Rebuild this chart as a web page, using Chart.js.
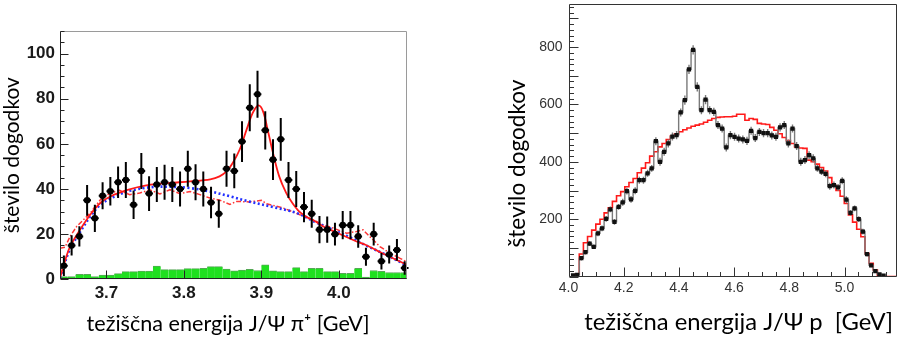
<!DOCTYPE html>
<html>
<head>
<meta charset="utf-8">
<script src="https://cdn.jsdelivr.net/npm/chart.js@4.4.1/dist/chart.umd.min.js"></script>
<style>
body { margin: 0; background: #fff; width: 901px; height: 341px; overflow: hidden; position: relative; }
canvas { position: absolute; top: 0; }
#left { left: 0; }
#right { left: 450px; }
</style>
</head>
<body>
<canvas id="left" width="450" height="341"></canvas>
<canvas id="right" width="451" height="341"></canvas>
<script>
// ---- left panel: J/psi pi+ ----
const binsL = [3.645, 3.655, 3.665, 3.675, 3.685, 3.695, 3.705, 3.715, 3.725, 3.735,
	3.745, 3.755, 3.765, 3.775, 3.785, 3.795, 3.805, 3.815, 3.825, 3.835,
	3.845, 3.855, 3.865, 3.875, 3.885, 3.895, 3.905, 3.915, 3.925, 3.935,
	3.945, 3.955, 3.965, 3.975, 3.985, 3.995, 4.005, 4.015, 4.025, 4.035,
	4.045, 4.055, 4.065, 4.075, 4.085];
const dataL = [6, 15, 19, 35, 27, 37, 39, 43, 44, 33,
	48, 38, 42, 43, 42, 40, 49, 43, 40, 34,
	29, 49, 48, 61, 76, 82, 66, 53, 62, 44,
	40, 32, 29, 22, 22, 20, 24, 24, 19, 10,
	20, 8, 11, 13, 5];
const errL = [4.5, 4.5, 4.5, 6.8, 6, 6, 6.3, 7, 8, 6.3,
	8, 7.7, 7.8, 7.8, 7.8, 7.8, 8, 8, 7.8, 7,
	6.2, 8, 7.7, 9, 10.4, 10.4, 8.5, 9, 9.5, 8,
	8, 6.7, 6.2, 6, 5.8, 5, 6.3, 6.3, 5, 4,
	5, 3.7, 4, 4.8, 3];
const greenL = [1.2, 1.2, 2.2, 2.2, 1.2, 1.9, 1.9, 2.5, 3.4, 3.4,
	3.6, 3.6, 5.9, 4.3, 4.3, 4.3, 4.7, 4.7, 4.9, 5.6,
	5.6, 4.5, 3.7, 4.1, 4.4, 3.9, 6.4, 3.7, 3.4, 3.4,
	5.2, 3.4, 4.9, 4.9, 3.4, 3.4, 2.7, 2.7, 4.9, 1.0,
	3.9, 3.5, 3.0, 3.0, 3.0];

const fitX = [3.64, 3.645, 3.653, 3.666, 3.679, 3.692, 3.705, 3.718, 3.731, 3.757, 3.783, 3.808, 3.834,
	3.846, 3.855, 3.863, 3.872, 3.881, 3.889, 3.896, 3.902, 3.908, 3.915, 3.923, 3.932, 3.94, 3.949,
	3.96, 3.97, 3.98, 3.99, 4.0, 4.02, 4.035, 4.05, 4.065, 4.083, 4.088];
const fitY = [0.5, 6.5, 14.5, 22, 28.6, 33.8, 36.7, 38.5, 40, 41.9, 42.7, 43.4, 44.3,
	45.6, 47.8, 51.5, 57.5, 66.4, 73.8, 77, 74.5, 66.4, 56, 45.6, 38.3, 33.8, 30,
	27.3, 25.6, 23.4, 21.8, 20.3, 17.2, 15.2, 12.6, 10.1, 7.2, 6.3];

const bkgX = [3.64, 3.645, 3.653, 3.666, 3.679, 3.692, 3.705, 3.718, 3.731, 3.757, 3.783, 3.808,
	3.834, 3.86, 3.886, 3.915, 3.947, 3.97, 3.992, 4.015, 4.035, 4.06, 4.083, 4.088];
const bkgY = [0.5, 6, 13.5, 21, 27.8, 33, 35.8, 37.8, 39.3, 40.8, 41, 40.4,
	38.9, 36.7, 34.3, 32, 29.2, 25.3, 22, 18.5, 15, 11, 7, 6];

const mcX = [3.64, 3.6465, 3.653, 3.6615, 3.679, 3.692, 3.705, 3.717, 3.73, 3.743, 3.756, 3.769,
	3.782, 3.795, 3.808, 3.8206, 3.8335, 3.8465, 3.8594, 3.868, 3.885, 3.9, 3.9067, 3.928,
	3.9497, 3.9626, 3.9798, 3.9927, 4.01, 4.023, 4.0313, 4.04, 4.053, 4.066, 4.079, 4.0875];
const mcY = [13.8, 14.2, 19, 23.4, 29.3, 35.2, 38.2, 39.4, 37.5, 38.2, 39.7, 37.8,
	39.7, 37.9, 38.9, 37.5, 36, 35, 33.2, 34.5, 34.3, 35, 33.5, 31.6,
	28.6, 27.1, 24.1, 22.7, 20.4, 21.2, 21.9, 18.9, 14.5, 11.6, 9.3, 7.8];

const xTicksL = [3.7, 3.8, 3.9, 4.0];
const yTicksL = [0, 20, 40, 60, 80, 100];

// ---- right panel: J/psi p ----
const binsR = [4.0165, 4.0315, 4.0465, 4.0615, 4.0765, 4.0915, 4.1065, 4.1215, 4.1365, 4.1515,
	4.1665, 4.1815, 4.1965, 4.2115, 4.2265, 4.2415, 4.2565, 4.2715, 4.2865, 4.3015,
	4.3165, 4.3315, 4.3465, 4.3615, 4.3765, 4.3915, 4.4065, 4.4215, 4.4365, 4.4515,
	4.4665, 4.4815, 4.4965, 4.5115, 4.5265, 4.5415, 4.5565, 4.5715, 4.5865, 4.6015,
	4.6165, 4.6315, 4.6465, 4.6615, 4.6765, 4.6915, 4.7065, 4.7215, 4.7365, 4.7515,
	4.7665, 4.7815, 4.7965, 4.8115, 4.8265, 4.8415, 4.8565, 4.8715, 4.8865, 4.9015,
	4.9165, 4.9315, 4.9465, 4.9615, 4.9765, 4.9915, 5.0065, 5.0215, 5.0365, 5.0515,
	5.0665, 5.0815, 5.0965, 5.1115, 5.1265, 5.1415, 5.1565, 5.1715, 5.1865];
const dataR = [4, 6, 64, 85, 115, 104, 151, 168, 201, 234,
	191, 243, 259, 298, 269, 299, 336, 336, 360, 377,
	472, 400, 435, 464, 488, 493, 572, 615, 722, 790,
	661, 580, 617, 580, 574, 528, 516, 450, 493, 487,
	481, 478, 473, 508, 483, 504, 500, 500, 492, 487,
	520, 528, 464, 516, 455, 400, 406, 423, 412, 377,
	366, 358, 315, 319, 311, 334, 268, 222, 238, 200,
	157, 78, 39, 19, 8, 3, null, null, null];
const errR = [3, 3, 8, 8, 8, 8, 10, 10, 10, 10,
	10, 10, 12, 12, 12, 12, 12, 12, 12, 12,
	14, 14, 14, 14, 14, 14, 14, 16, 16, 16,
	16, 14, 16, 14, 14, 14, 14, 14, 14, 14,
	14, 14, 14, 14, 14, 14, 14, 14, 14, 14,
	14, 14, 14, 14, 14, 14, 14, 14, 14, 12,
	12, 12, 12, 12, 12, 12, 12, 10, 10, 10,
	10, 8, 6, 4, 3, 2, 0, 0, 0];
const phspR = [0, 8, 79, 118, 140, 162, 183, 200, 222, 240,
	262, 282, 296, 313, 328, 342, 362, 378, 397, 420,
	435, 452, 464, 478, 490, 497, 505, 512, 518, 524,
	528, 532, 538, 545, 551, 555, 556, 557, 557, 559,
	566, 566, 545, 551, 548, 534, 532, 530, 520, 510,
	498, 485, 474, 464, 452, 448, 447, 406, 400, 392,
	380, 368, 345, 318, 300, 280, 255, 215, 190, 165,
	139, 80, 46, 23, 5, 0, 0, 0, 0];

const xTicksR = [4.0, 4.2, 4.4, 4.6, 4.8, 5.0];
const yTicksR = [200, 400, 600, 800];

function pts(xs, ys) {
	return xs.map((x, i) => ({x: x, y: ys[i]}));
}

function steps(min, max, step) {
	const out = [];
	for (let v = min; v <= max + 1e-9; v += step) {
		out.push(Math.round(v * 1e6) / 1e6);
	}
	return out;
}

// no extra room for half labels at the axis ends
function fixX(h) {
	return function (s) { s.height = h; s.paddingLeft = 0; s.paddingRight = 0; };
}
function fixY(w) {
	return function (s) { s.width = w; s.paddingTop = 0; s.paddingBottom = 0; };
}

// vertical (and optional horizontal) error bars, drawn just before the dataset's markers
const errorBars = {
	id: "errorBars",
	beforeDatasetDraw(chart, args) {
		const ds = chart.data.datasets[args.index];
		if (!ds.errors) {
			return;
		}
		const {ctx, scales: {x, y}} = chart;
		ctx.save();
		ctx.strokeStyle = ds.errorColor;
		ctx.lineWidth = ds.errorWidth;
		ctx.beginPath();
		args.meta.data.forEach(function (pt, i) {
			const v = ds.data[i];
			if (v.y == null || !ds.errors[i]) {
				return;
			}
			const e = ds.errors[i];
			ctx.moveTo(pt.x, y.getPixelForValue(v.y + e));
			ctx.lineTo(pt.x, y.getPixelForValue(Math.max(v.y - e, 0)));
			if (ds.xHalf) {
				ctx.moveTo(x.getPixelForValue(v.x - ds.xHalf), pt.y);
				ctx.lineTo(x.getPixelForValue(v.x + ds.xHalf), pt.y);
			}
		});
		ctx.stroke();
		ctx.restore();
	},
};

// ROOT-like frame with inward ticks, plus an optional free-standing rotated y title
const frameTicks = {
	id: "frameTicks",
	afterDatasetsDraw(chart, args, o) {
		const {ctx, chartArea: a, scales: {x, y}} = chart;
		const L = Math.round(a.left) + 0.5, R = Math.round(a.right) - 0.5;
		const T = Math.round(a.top) + 0.5, B = Math.round(a.bottom) - 0.5;
		ctx.save();
		ctx.lineWidth = 1;
		ctx.strokeStyle = o.edgeColor;
		ctx.beginPath();
		ctx.moveTo(L, T); ctx.lineTo(R, T); ctx.lineTo(R, B);
		ctx.stroke();
		ctx.strokeStyle = o.axisColor;
		ctx.beginPath();
		ctx.moveTo(L, T); ctx.lineTo(L, B); ctx.lineTo(R, B);
		for (const v of steps(y.min, y.max, o.yMinor)) {
			const p = Math.round(y.getPixelForValue(v)) + 0.5;
			const major = Math.abs(v / o.yMajor - Math.round(v / o.yMajor)) < 1e-6;
			ctx.moveTo(L, p);
			ctx.lineTo(L + (major ? o.majorLen : o.minorLen), p);
		}
		for (const v of steps(o.xStart, x.max, o.xMinor)) {
			const p = Math.round(x.getPixelForValue(v)) + 0.5;
			const major = Math.abs((v - o.xStart) / o.xMajor - Math.round((v - o.xStart) / o.xMajor)) < 1e-6;
			ctx.moveTo(p, B);
			ctx.lineTo(p, B - (major ? o.majorLen : o.minorLen));
		}
		ctx.stroke();
		if (o.yTitle) {
			ctx.translate(o.yTitle.x, o.yTitle.y);
			ctx.rotate(-Math.PI / 2);
			ctx.font = o.yTitle.font;
			ctx.fillStyle = "#000";
			ctx.textAlign = "center";
			ctx.textBaseline = "middle";
			ctx.fillText(o.yTitle.text, 0, 0);
		}
		ctx.restore();
	},
};

Chart.register(errorBars, frameTicks);

new Chart(document.getElementById("left"), {
	"type": "line",
	"data": {
		"datasets": [
			{
				"label": "podatki",
				"data": pts(binsL, dataL),
				"showLine": false,
				"pointRadius": 3.3,
				"pointBackgroundColor": "#000",
				"pointBorderWidth": 0,
				"errors": errL,
				"errorColor": "#000",
				"errorWidth": 2,
				"xHalf": 0.005,
				"order": 0,
			},
			{
				"label": "fit",
				"data": pts(fitX, fitY),
				"borderColor": "#ff1a1a",
				"borderWidth": 1.8,
				"pointRadius": 0,
				"tension": 0.35,
				"order": 1,
			},
			{
				"label": "ozadje",
				"data": pts(bkgX, bkgY),
				"borderColor": "#2230ff",
				"borderWidth": 2.6,
				"borderDash": [2, 2.5],
				"pointRadius": 0,
				"tension": 0.35,
				"order": 2,
			},
			{
				"label": "MC",
				"data": pts(mcX, mcY),
				"borderColor": "#ff3535",
				"borderWidth": 1.5,
				"borderDash": [5, 2, 1.5, 2],
				"pointRadius": 0,
				"order": 3,
			},
			{
				"type": "bar",
				"label": "zeleno",
				"data": pts(binsL, greenL),
				"backgroundColor": "#1fe01f",
				"borderColor": "#55a855",
				"borderWidth": {"top": 1, "left": 0, "right": 0, "bottom": 0},
				"barPercentage": 1,
				"categoryPercentage": 1,
				"order": 5,
			},
		],
	},
	"options": {
		"responsive": false,
		"animation": false,
		"devicePixelRatio": 1,
		"layout": {"padding": {"top": 31, "right": 43, "bottom": 4, "left": 0}},
		"plugins": {
			"legend": {"display": false},
			"tooltip": {"enabled": false},
			"frameTicks": {"edgeColor": "#9a9a9a", "axisColor": "#222", "yMinor": 5, "yMajor": 20, "xStart": 3.7, "xMinor": 0.1, "xMajor": 0.1, "majorLen": 8, "minorLen": 4},
		},
		"scales": {
			"x": {
				"type": "linear",
				"min": 3.64,
				"max": 4.088,
				"offset": false,
				"grid": {"display": false, "drawTicks": false, "offset": false},
				"border": {"display": false},
				"afterBuildTicks": (s) => { s.ticks = xTicksL.map((v) => ({"value": v})); },
				"afterFit": fixX(57.7),
				"ticks": {
					"padding": 3.5,
					"autoSkip": false,
					"maxRotation": 0,
					"color": "#1a1a1a",
					"font": {"family": "Liberation Sans", "size": 17, "weight": "bold"},
					"callback": (v) => v.toFixed(1),
				},
				"title": {
					"display": true,
					"text": "težiščna energija J/Ψ π⁺ [GeV]\u2002",
					"color": "#000",
					"font": {"family": "Lato", "size": 21.6},
					"padding": {"top": 0, "bottom": 0},
				},
			},
			"y": {
				"type": "linear",
				"min": 0,
				"max": 110,
				"grid": {"display": false, "drawTicks": false},
				"border": {"display": false},
				"afterBuildTicks": (s) => { s.ticks = yTicksL.map((v) => ({"value": v})); },
				"afterFit": fixY(60),
				"ticks": {
					"padding": 5,
					"color": "#1a1a1a",
					"font": {"family": "Liberation Sans", "size": 17, "weight": "bold"},
				},
				"title": {
					"display": true,
					"text": "število dogodkov",
					"color": "#000",
					"font": {"family": "Lato", "size": 21},
					"padding": {"top": 0, "bottom": 0},
				},
			},
		},
	},
});

new Chart(document.getElementById("right"), {
	"type": "line",
	"data": {
		"datasets": [
			{
				"label": "podatki",
				"data": pts(binsR, dataR),
				"stepped": "middle",
				"borderColor": "#7a7a7a",
				"borderWidth": 1.4,
				"pointStyle": "rect",
				"pointRadius": 3,
				"pointBackgroundColor": "#111",
				"pointBorderWidth": 0,
				"errors": errR,
				"errorColor": "#7a7a7a",
				"errorWidth": 1.4,
				"order": 0,
			},
			{
				"label": "fazni prostor",
				"data": pts(binsR, phspR),
				"stepped": "middle",
				"borderColor": "#ff1a1a",
				"borderWidth": 1.6,
				"pointRadius": 0,
				"order": 1,
			},
		],
	},
	"options": {
		"responsive": false,
		"animation": false,
		"devicePixelRatio": 1,
		"layout": {"padding": {"top": 4, "right": 4, "bottom": 4, "left": 0}},
		"plugins": {
			"legend": {"display": false},
			"tooltip": {"enabled": false},
			"frameTicks": {
				"edgeColor": "#333", "axisColor": "#333", "yMinor": 20, "yMajor": 100,
				"xStart": 4.0, "xMinor": 0.05, "xMajor": 0.2, "majorLen": 9, "minorLen": 4.5,
				"yTitle": {"text": "število dogodkov", "x": 68, "y": 163.5, "font": "22.6px Lato"},
			},
		},
		"scales": {
			"x": {
				"type": "linear",
				"min": 4.0,
				"max": 5.19,
				"offset": false,
				"grid": {"display": false, "drawTicks": false},
				"border": {"display": false},
				"afterBuildTicks": (s) => { s.ticks = xTicksR.map((v) => ({"value": v})); },
				"afterFit": fixX(60.4),
				"ticks": {
					"padding": 3.3,
					"autoSkip": false,
					"maxRotation": 0,
					"color": "#333",
					"font": {"family": "Liberation Sans", "size": 14},
					"callback": (v) => v.toFixed(1),
				},
				"title": {
					"display": true,
					"text": "\u2002težiščna energija J/Ψ p  [GeV]",
					"color": "#000",
					"font": {"family": "Lato", "size": 23.8},
					"padding": {"top": 0, "bottom": 0},
				},
			},
			"y": {
				"type": "linear",
				"min": 0,
				"max": 950,
				"grid": {"display": false, "drawTicks": false},
				"border": {"display": false},
				"afterBuildTicks": (s) => { s.ticks = yTicksR.map((v) => ({"value": v})); },
				"afterFit": fixY(118.5),
				"ticks": {
					"padding": 6,
					"color": "#333",
					"font": {"family": "Liberation Sans", "size": 14},
				},
			},
		},
	},
});
</script>
</body>
</html>
